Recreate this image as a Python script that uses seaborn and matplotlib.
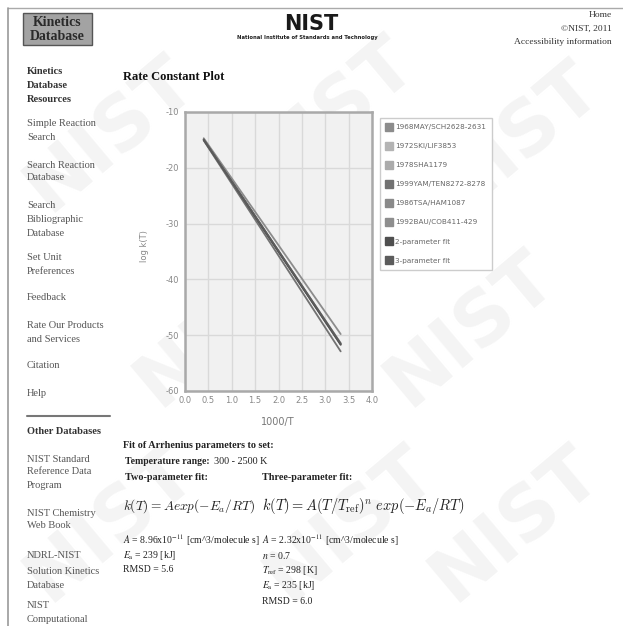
import matplotlib
matplotlib.use("Agg")
import matplotlib.pyplot as plt
import pandas as pd
import seaborn as sns
from matplotlib.lines import Line2D
from matplotlib.patches import Rectangle

# Rate constant plot data (x = 1000/T, y = log k(T))
labels = ['1968MAY/SCH2628-2631', '1972SKI/LIF3853', '1978SHA1179',
          '1999YAM/TEN8272-8278', '1986TSA/HAM1087', '1992BAU/COB411-429',
          '2-parameter fit', '3-parameter fit']
x_start = [0.40, 0.40, 0.40, 0.40, 0.40, 0.40, 0.40, 0.40]
x_end = [3.33, 3.33, 3.33, 3.33, 3.33, 3.33, 3.33, 3.33]
y_start = [-14.7, -15.0, -14.9, -15.1, -14.9, -15.0, -15.0, -14.9]
y_end = [-49.8, -51.4, -51.6, -52.9, -51.7, -51.5, -51.7, -51.5]

xticks = [0.0, 0.5, 1.0, 1.5, 2.0, 2.5, 3.0, 3.5, 4.0]
yticks = [-10, -20, -30, -40, -50, -60]

colors = ['#8c8c8c', '#b4b4b4', '#ababab', '#727272',
          '#8a8a8a', '#8e8e8e', '#4f4f4f', '#5c5c5c']

df = pd.DataFrame({
    'source': labels + labels,
    'inv_t': x_start + x_end,
    'logk': y_start + y_end,
})

sns.set_theme(style='white')
plt.rcParams['font.family'] = ['Liberation Serif', 'DejaVu Serif']
plt.rcParams['mathtext.fontset'] = 'cm'

W, H = 623, 626
fig = plt.figure(figsize=(W / 100, H / 100), dpi=100)
fig.patch.set_facecolor('white')

# page layer in pixel coordinates
page = fig.add_axes([0, 0, 1, 1])
page.set_xlim(0, W)
page.set_ylim(H, 0)
page.axis('off')
page.set_zorder(-1)

# faint NIST watermark
for wx, wy in [(110, 135), (330, 115), (515, 140), (220, 330), (470, 330),
               (110, 525), (350, 525), (515, 525)]:
    page.text(wx, wy, 'NIST', fontsize=54, fontweight='bold', rotation=40,
              color='#f4f4f4', ha='center', va='center', family='DejaVu Sans')

# frame lines of the page
page.plot([8, W], [8, 8], color='#aaaaaa', lw=1)
page.plot([8, 8], [8, H], color='#999999', lw=1.2)

# header
page.add_patch(Rectangle((23, 13), 69, 32, fc='#a3a3a3', ec='#555555', lw=1))
page.text(57.5, 22, 'Kinetics', ha='center', va='center', fontsize=10,
          fontweight='bold', color='#2a2a2a')
page.text(57.5, 37, 'Database', ha='center', va='center', fontsize=10,
          fontweight='bold', color='#2a2a2a')
page.text(311, 24, 'NIST', ha='center', va='center', fontsize=15,
          fontweight='heavy', color='#1a1a1a', family='DejaVu Sans')
page.text(307, 37, 'National Institute of Standards and Technology', ha='center',
          va='center', fontsize=3.8, fontweight='bold', color='#222222',
          family='DejaVu Sans')
for s, y in [('Home', 15), ('\u00a9NIST, 2011', 29), ('Accessibility information', 42)]:
    page.text(612, y, s, ha='right', va='center', fontsize=6.8, color='#333333')

# left navigation
sidebar = [
    ('Kinetics', 71, True), ('Database', 85, True), ('Resources', 99, True),
    ('Simple Reaction', 124, False), ('Search', 138, False),
    ('Search Reaction', 165, False), ('Database', 178, False),
    ('Search', 205, False), ('Bibliographic', 219, False), ('Database', 233, False),
    ('Set Unit', 257, False), ('Preferences', 271, False),
    ('Feedback', 298, False),
    ('Rate Our Products', 325, False), ('and Services', 339, False),
    ('Citation', 366, False), ('Help', 393, False),
    ('Other Databases', 432, True),
    ('NIST Standard', 459, False), ('Reference Data', 472, False), ('Program', 485, False),
    ('NIST Chemistry', 513, False), ('Web Book', 526, False),
    ('NDRL-NIST', 556, False), ('Solution Kinetics', 571, False), ('Database', 586, False),
    ('NIST', 605, False), ('Computational', 619, False),
]
for s, y, bold in sidebar:
    page.text(27, y, s, va='center', fontsize=7.5,
              fontweight='bold' if bold else 'normal',
              color='#333333' if bold else '#555555')
page.plot([27, 110], [416, 416], color='#777777', lw=1.5)

page.text(123, 77, 'Rate Constant Plot', va='center', fontsize=9,
          fontweight='bold', color='#111111')

# fit summary below the chart
page.text(123, 446, 'Fit of Arrhenius parameters to set:', va='center',
          fontsize=7.3, fontweight='bold', color='#222222')
trange = page.text(125, 462, 'Temperature range:', va='center', fontsize=7,
                   fontweight='bold', color='#222222')
page.annotate('300 - 2500 K', xy=(1, 0.5), xycoords=trange, xytext=(3, 0),
              textcoords='offset points', va='center', fontsize=7.3,
              color='#222222')
page.text(125, 477, 'Two-parameter fit:', va='center', fontsize=7.3,
          fontweight='bold', color='#222222')
page.text(262, 477, 'Three-parameter fit:', va='center', fontsize=7.3,
          fontweight='bold', color='#222222')
page.text(123, 506, r'$k(T) = Aexp(-E_a/RT)$', va='center', fontsize=9.6,
          color='#222222', math_fontfamily='cm')
page.text(262, 506, r'$k(T) = A(T/T_{\rm ref})^n\ exp(-E_a/RT)$', va='center',
          fontsize=10.4, color='#222222', math_fontfamily='cm')
left_params = [r'$A$ = 8.96x10$^{-11}$ [cm^3/molecule s]',
               r'$E_{\rm a}$ = 239 [kJ]', 'RMSD = 5.6']
right_params = [r'$A$ = 2.32x10$^{-11}$ [cm^3/molecule s]', r'$n$ = 0.7',
                r'$T_{\rm ref}$ = 298 [K]', r'$E_{\rm a}$ = 235 [kJ]', 'RMSD = 6.0']
for i, s in enumerate(left_params):
    page.text(123, 540 + 15 * i, s, va='center', fontsize=7, color='#222222',
              math_fontfamily='stix')
for i, s in enumerate(right_params):
    page.text(262, 540 + 15.3 * i, s, va='center', fontsize=7, color='#222222',
              math_fontfamily='stix')

# the chart itself
left, right, top, bottom = 185, 372, 112, 391
ax = fig.add_axes([left / W, 1 - bottom / H, (right - left) / W, (bottom - top) / H])
ax.set_facecolor('#f1f1f1')
sns.lineplot(data=df, x='inv_t', y='logk', hue='source', hue_order=labels,
             palette=colors, lw=1.3, estimator=None, legend=False, ax=ax)
ax.set_xlim(0, 4)
ax.set_ylim(-60, -10)
ax.set_xticks(xticks)
ax.set_xticklabels([f'{v:.1f}' for v in xticks])
ax.set_yticks(yticks)
ax.set_yticklabels([f'{v}' for v in yticks])
ax.grid(True, color='#d9d9d9', lw=1)
ax.set_axisbelow(True)
for sp in ax.spines.values():
    sp.set_color('#a9a9a9')
    sp.set_linewidth(1.8)
ax.tick_params(length=0, labelsize=6, labelcolor='#888888')
ax.tick_params(axis='y', pad=4.3)
ax.tick_params(axis='x', pad=3.6)
for lab in ax.get_xticklabels() + ax.get_yticklabels():
    lab.set_family('DejaVu Sans')
ax.set_xlabel('1000/T', fontsize=7, color='#777777', family='DejaVu Sans')
ax.set_ylabel('log k(T)', fontsize=6, color='#888888', family='DejaVu Sans')
ax.xaxis.set_label_coords(0.497, -0.093)
ax.yaxis.set_label_coords(-0.19, 0.52)

handles = [Line2D([], [], marker='s', ls='', markersize=5.8, mfc=c, mec=c)
           for c in colors]
leg = ax.legend(handles, labels, loc='upper left',
                bbox_to_anchor=(380 / W, 1 - 118 / H),
                bbox_transform=fig.transFigure, frameon=True, fancybox=False,
                edgecolor='#cccccc', framealpha=1,
                labelspacing=1.8, borderpad=0.85, handlelength=0.8,
                handletextpad=0.4, borderaxespad=0,
                prop={'family': 'DejaVu Sans', 'size': 5.2})
for t in leg.get_texts():
    t.set_color('#666666')

fig.savefig('out.png', dpi=100)
